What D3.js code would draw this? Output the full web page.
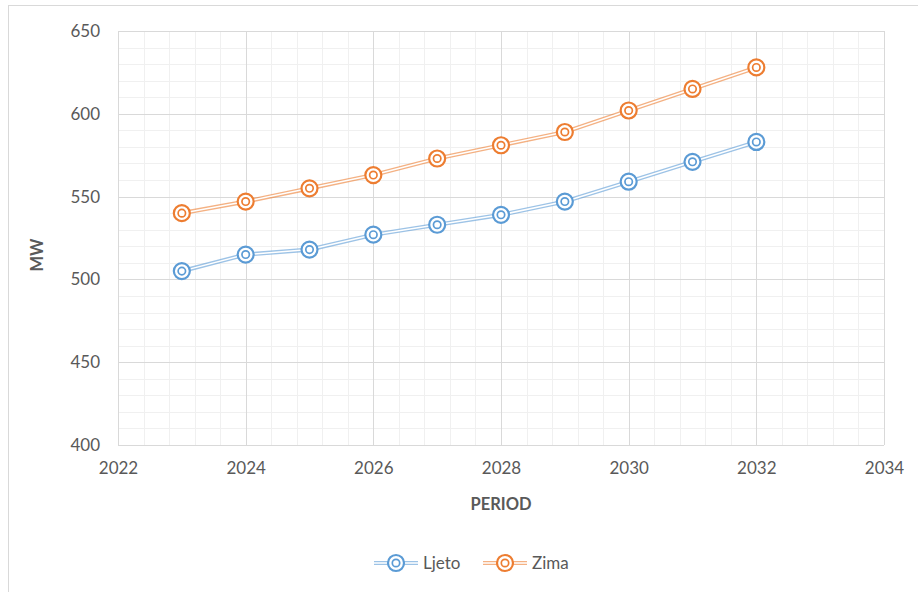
<!DOCTYPE html>
<html>
<head>
<meta charset="utf-8">
<script src="https://cdn.jsdelivr.net/npm/d3@7"></script>
<style>
  body { margin: 0; background: #fff; }
  text { font-family: Lato, "Open Sans", sans-serif; }
</style>
</head>
<body>
<svg id="chart"></svg>
<script>
// --------------------
//  data
// --------------------
const years = [2023, 2024, 2025, 2026, 2027, 2028, 2029, 2030, 2031, 2032];
const ljeto = [505, 515, 518, 527, 533, 539, 547, 559, 571, 583];
const zima = [540, 547, 555, 563, 573, 581, 589, 602, 615, 628];
const xTicks = [2022, 2024, 2026, 2028, 2030, 2032, 2034];
const yTicks = [400, 450, 500, 550, 600, 650];
const seriesNames = ['Ljeto', 'Zima'];
const seriesColors = ['#5B9BD5', '#ED7D31'];

// --------------------
//  setup
// --------------------
const width = 918;
const height = 592;
const plot = {left: 118, right: 884, top: 31, bottom: 445};

const svg = d3.select('#chart')
    .attr('width', width)
    .attr('height', height);

// chart border
svg.append('rect')
    .attr('x', 8.5).attr('y', 5.5)
    .attr('width', 920).attr('height', 590)
    .attr('fill', 'none')
    .attr('stroke', '#D9D9D9');

const x = d3.scaleLinear().domain([2022, 2034]).range([plot.left, plot.right]);
const y = d3.scaleLinear().domain([400, 650]).range([plot.bottom, plot.top]);

// minor gridlines
const xMinor = d3.range(2022, 2034.001, 0.4);
const yMinor = d3.range(400, 650.001, 10);
svg.append('g').selectAll('line')
    .data(xMinor)
    .join('line')
    .attr('x1', d => Math.round(x(d)) + 0.5).attr('x2', d => Math.round(x(d)) + 0.5)
    .attr('y1', plot.top).attr('y2', plot.bottom)
    .attr('stroke', '#F0F0F0');
svg.append('g').selectAll('line')
    .data(yMinor)
    .join('line')
    .attr('y1', d => Math.round(y(d)) + 0.5).attr('y2', d => Math.round(y(d)) + 0.5)
    .attr('x1', plot.left).attr('x2', plot.right)
    .attr('stroke', '#F0F0F0');

// major gridlines
svg.append('g').selectAll('line')
    .data(xTicks)
    .join('line')
    .attr('x1', d => Math.round(x(d)) + 0.5).attr('x2', d => Math.round(x(d)) + 0.5)
    .attr('y1', plot.top).attr('y2', plot.bottom)
    .attr('stroke', '#D9D9D9');
svg.append('g').selectAll('line')
    .data(yTicks)
    .join('line')
    .attr('y1', d => Math.round(y(d)) + 0.5).attr('y2', d => Math.round(y(d)) + 0.5)
    .attr('x1', plot.left).attr('x2', plot.right)
    .attr('stroke', '#D9D9D9');

// axes (labels only)
const xAxis = svg.append('g')
    .attr('transform', `translate(0,${plot.bottom})`)
    .call(d3.axisBottom(x).tickValues(xTicks).tickFormat(d3.format('d')).tickSize(0).tickPadding(17));
const yAxis = svg.append('g')
    .attr('transform', `translate(${plot.left},0)`)
    .call(d3.axisLeft(y).tickValues(yTicks).tickSize(0).tickPadding(18));
[xAxis, yAxis].forEach(a => {
    a.select('.domain').remove();
    a.selectAll('text')
        .attr('font-size', '17px')
        .attr('fill', '#595959')
        .style('font-family', 'Lato, "Open Sans", sans-serif');
});

// axis titles
svg.append('text')
    .attr('x', (plot.left + plot.right) / 2)
    .attr('y', 510)
    .attr('text-anchor', 'middle')
    .attr('font-size', '16.5px')
    .attr('font-weight', 'bold')
    .attr('fill', '#595959')
    .text('PERIOD');
svg.append('text')
    .attr('transform', 'translate(43,255) rotate(-90)')
    .attr('text-anchor', 'middle')
    .attr('font-size', '16.5px')
    .attr('font-weight', 'bold')
    .attr('fill', '#595959')
    .text('MW');

// --------------------
//  series
// --------------------
const line = d3.line().x(d => x(d[0])).y(d => y(d[1]));
const seriesData = [ljeto, zima].map(vals => years.map((yr, i) => [yr, vals[i]]));

function drawMarker(g, cx, cy, color) {
    g.append('circle').attr('cx', cx).attr('cy', cy).attr('r', 8)
        .attr('fill', '#fff').attr('stroke', color).attr('stroke-width', 2.2);
    g.append('circle').attr('cx', cx).attr('cy', cy).attr('r', 3.7)
        .attr('fill', 'none').attr('stroke', color).attr('stroke-width', 1.7);
}

seriesData.forEach((pts, s) => {
    const g = svg.append('g');
    // compound (double) line
    g.append('path').datum(pts).attr('d', line)
        .attr('fill', 'none').attr('stroke', seriesColors[s])
        .attr('stroke-opacity', 0.6).attr('stroke-width', 4.2);
    g.append('path').datum(pts).attr('d', line)
        .attr('fill', 'none').attr('stroke', '#fff').attr('stroke-width', 1.5);
    pts.forEach(p => drawMarker(g, x(p[0]), y(p[1]), seriesColors[s]));
});

// --------------------
//  legend
// --------------------
const legendX = [396, 505];
seriesNames.forEach((name, i) => {
    const g = svg.append('g');
    const cx = legendX[i];
    const cy = 563;
    g.append('line').attr('x1', cx - 22).attr('x2', cx + 22).attr('y1', cy).attr('y2', cy)
        .attr('stroke', seriesColors[i]).attr('stroke-opacity', 0.6).attr('stroke-width', 4.2);
    g.append('line').attr('x1', cx - 22).attr('x2', cx + 22).attr('y1', cy).attr('y2', cy)
        .attr('stroke', '#fff').attr('stroke-width', 1.5);
    drawMarker(g, cx, cy, seriesColors[i]);
    g.append('text')
        .attr('x', cx + 27)
        .attr('y', cy + 6)
        .attr('font-size', '17px')
        .attr('fill', '#595959')
        .text(name);
});
</script>
</body>
</html>
